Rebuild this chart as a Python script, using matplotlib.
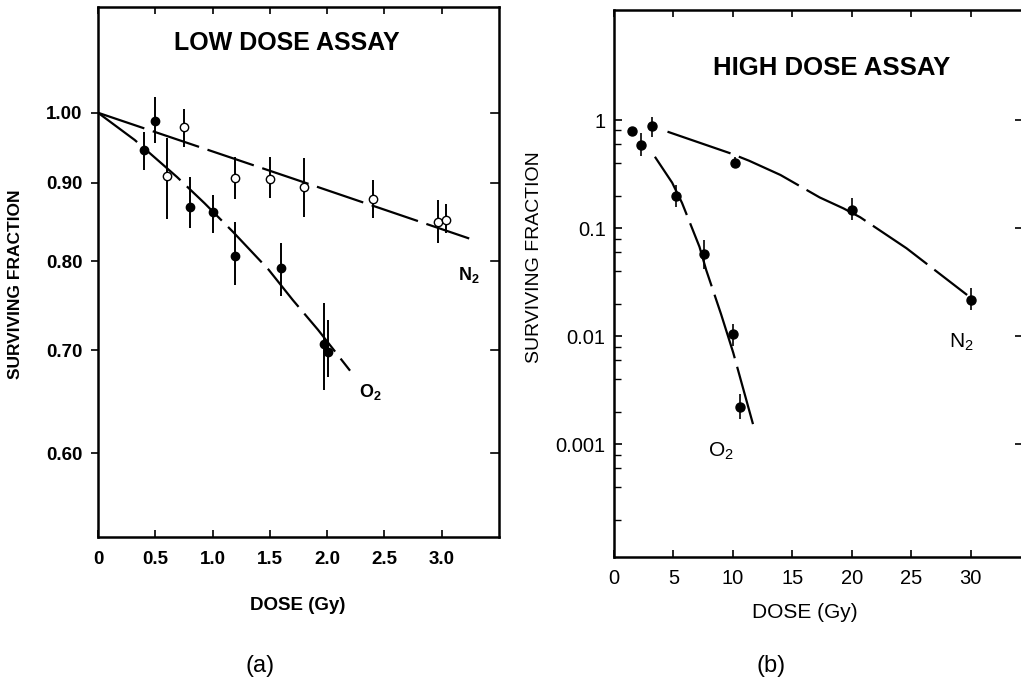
import matplotlib
matplotlib.use("Agg")
import matplotlib.pyplot as plt
from matplotlib.ticker import FixedLocator, NullLocator, NullFormatter
import numpy as np

plt.rcParams['font.family'] = ['Liberation Sans', 'DejaVu Sans']
plt.rcParams['mathtext.fontset'] = 'custom'
plt.rcParams['mathtext.rm'] = 'Liberation Sans'
plt.rcParams['mathtext.bf'] = 'Liberation Sans:bold'

# ---------------- (a) LOW DOSE ASSAY ----------------
lo_o2_dose = [0.40, 0.50, 0.80, 1.00, 1.20, 1.60, 1.97, 2.01]
lo_o2_sf   = [0.946, 0.988, 0.868, 0.862, 0.807, 0.792, 0.707, 0.698]
lo_o2_low  = [0.918, 0.956, 0.841, 0.835, 0.772, 0.759, 0.660, 0.673]
lo_o2_high = [0.972, 1.024, 0.908, 0.884, 0.849, 0.823, 0.752, 0.733]

lo_n2_dose = [0.60, 0.75, 1.20, 1.50, 1.80, 2.40, 2.97, 3.04]
lo_n2_sf   = [0.910, 0.979, 0.907, 0.906, 0.895, 0.879, 0.849, 0.851]
lo_n2_low  = [0.852, 0.950, 0.879, 0.880, 0.855, 0.854, 0.823, 0.835]
lo_n2_high = [0.963, 1.005, 0.936, 0.936, 0.935, 0.904, 0.877, 0.872]

lo_n2_fit_dose = [0.0, 1.70, 3.24]
lo_n2_fit_sf   = [1.0, 0.906, 0.828]
lo_o2_fit_dose = [0.0, 0.32, 0.69, 0.93, 1.18, 1.49, 1.70, 1.92, 2.20]
lo_o2_fit_sf   = [1.0, 0.960, 0.908, 0.873, 0.836, 0.790, 0.755, 0.722, 0.679]

lo_xticks = [0, 0.5, 1.0, 1.5, 2.0, 2.5, 3.0]
lo_xticklabels = ["0", "0.5", "1.0", "1.5", "2.0", "2.5", "3.0"]
lo_yticks = [0.60, 0.70, 0.80, 0.90, 1.00]
lo_yticklabels = ["0.60", "0.70", "0.80", "0.90", "1.00"]

# ---------------- (b) HIGH DOSE ASSAY ----------------
hi_init_dose = [1.5, 2.3, 3.2]
hi_init_sf   = [0.79, 0.59, 0.88]
hi_init_low  = [0.79, 0.46, 0.70]
hi_init_high = [0.79, 0.76, 1.07]

hi_n2_dose = [10.2, 20.0, 30.0]
hi_n2_sf   = [0.397, 0.147, 0.0216]
hi_n2_low  = [0.397, 0.119, 0.0174]
hi_n2_high = [0.457, 0.188, 0.0277]

hi_o2_dose = [5.2, 7.6, 10.0, 10.6]
hi_o2_sf   = [0.198, 0.057, 0.0104, 0.0022]
hi_o2_low  = [0.157, 0.042, 0.0081, 0.00172]
hi_o2_high = [0.250, 0.0774, 0.0129, 0.0029]

hi_n2_fit_dose = [4.5, 9.83, 11.36, 14.0, 17.3, 19.3, 20.7, 24.6, 29.7]
hi_n2_fit_sf   = [0.78, 0.49, 0.42, 0.31, 0.192, 0.152, 0.126, 0.065, 0.024]
hi_o2_fit_dose = [3.44, 4.89, 5.72, 7.19, 7.75, 9.0, 10.03, 11.69]
hi_o2_fit_sf   = [0.457, 0.263, 0.171, 0.067, 0.041, 0.0160, 0.0070, 0.00153]

hi_xticks = [0, 5, 10, 15, 20, 25, 30]
hi_yticks = [0.001, 0.01, 0.1, 1]
hi_yticklabels = ["0.001", "0.01", "0.1", "1"]
hi_minor_mult = [0.2, 0.4, 0.6, 0.8]


def yerr(sf, low, high):
    sf = np.asarray(sf); return [sf - np.asarray(low), np.asarray(high) - sf]


W, H = 1021, 696
fig = plt.figure(figsize=(W / 100, H / 100), dpi=100)

# ---- panel (a)
axa = fig.add_axes([98 / W, 1 - 537 / H, 401 / W, 530 / H])
axa.set_yscale('log')
axa.set_xlim(0, 3.5)
axa.set_ylim(0.529, 1.172)
ls = (0, (22, 4))
axa.plot(lo_n2_fit_dose, lo_n2_fit_sf, color='black', lw=1.6, linestyle=ls, zorder=2)
axa.plot(lo_o2_fit_dose, lo_o2_fit_sf, color='black', lw=1.6, linestyle=ls, zorder=2)
axa.errorbar(lo_o2_dose, lo_o2_sf, yerr=yerr(lo_o2_sf, lo_o2_low, lo_o2_high),
             fmt='o', ms=6, mfc='black', mec='black', ecolor='black', elinewidth=1.4,
             capsize=0, zorder=3)
axa.errorbar(lo_n2_dose, lo_n2_sf, yerr=yerr(lo_n2_sf, lo_n2_low, lo_n2_high),
             fmt='o', ms=6, mfc='white', mec='black', mew=1.0, ecolor='black',
             elinewidth=1.4, capsize=0, zorder=3)
axa.xaxis.set_major_locator(FixedLocator(lo_xticks))
axa.set_xticklabels(lo_xticklabels, fontsize=13.5, fontweight='bold')
axa.yaxis.set_major_locator(FixedLocator(lo_yticks))
axa.yaxis.set_minor_locator(NullLocator())
axa.yaxis.set_minor_formatter(NullFormatter())
axa.set_yticklabels(lo_yticklabels, fontsize=13.5, fontweight='bold')
axa.tick_params(axis='x', direction='in', top=True, length=5, width=1.2, pad=10)
axa.tick_params(axis='y', direction='out', right=False, length=5, width=1.2, pad=6)
for yt in lo_yticks:
    axa.plot([3.43, 3.5], [yt, yt], color='black', lw=1.2, clip_on=False, zorder=1)
for s in axa.spines.values():
    s.set_linewidth(1.8)
axa.set_xlabel('DOSE (Gy)', fontsize=13.5, fontweight='bold')
axa.xaxis.set_label_coords(0.499, -0.113)
axa.set_ylabel('SURVIVING FRACTION', fontsize=12.5, fontweight='bold')
axa.yaxis.set_label_coords(-0.187, 0.477)
axa.text(0.471, 0.932, 'LOW DOSE ASSAY', transform=axa.transAxes, ha='center',
         va='center', fontsize=18, fontweight='bold')
axa.text(3.14, 0.784, r'$\mathbf{N}_{\mathbf{2}}$', fontsize=13, ha='left', va='center')
axa.text(2.28, 0.658, r'$\mathbf{O}_{\mathbf{2}}$', fontsize=13, ha='left', va='center')

# ---- panel (b)
axb = fig.add_axes([614 / W, 1 - 557 / H, 409 / W, 547 / H])
axb.set_yscale('log')
axb.set_xlim(0, 34.4)
axb.set_ylim(9.0e-5, 10.44)
ls2 = (0, (30, 4))
axb.plot(hi_n2_fit_dose, hi_n2_fit_sf, color='black', lw=1.6, linestyle=ls2, zorder=2)
axb.plot(hi_o2_fit_dose, hi_o2_fit_sf, color='black', lw=1.6, linestyle=ls2, zorder=2)
for d, s, lo, hi in [(hi_init_dose, hi_init_sf, hi_init_low, hi_init_high),
                     (hi_n2_dose, hi_n2_sf, hi_n2_low, hi_n2_high),
                     (hi_o2_dose, hi_o2_sf, hi_o2_low, hi_o2_high)]:
    axb.errorbar(d, s, yerr=yerr(s, lo, hi), fmt='o', ms=6.5, mfc='black', mec='black',
                 ecolor='black', elinewidth=1.2, capsize=0, zorder=3)
axb.xaxis.set_major_locator(FixedLocator(hi_xticks))
axb.set_xticklabels([str(t) for t in hi_xticks], fontsize=14.5)
axb.yaxis.set_major_locator(FixedLocator(hi_yticks))
axb.set_yticklabels(hi_yticklabels, fontsize=14.5)
minor_pos = [m * dec for dec in [1e-3, 1e-2, 1e-1, 1.0] for m in hi_minor_mult]
axb.yaxis.set_minor_locator(FixedLocator(minor_pos))
axb.yaxis.set_minor_formatter(NullFormatter())
axb.tick_params(axis='x', direction='in', top=True, length=5, width=1.2, pad=9)
axb.tick_params(axis='y', which='major', direction='in', right=True, length=6, width=1.2, pad=6)
axb.tick_params(axis='y', which='minor', direction='in', right=False, length=5, width=1.0)
for s in axb.spines.values():
    s.set_linewidth(1.8)
axb.set_xlabel('DOSE (Gy)', fontsize=15)
axb.xaxis.set_label_coords(0.467, -0.084)
axb.set_ylabel('SURVIVING FRACTION', fontsize=14)
axb.yaxis.set_label_coords(-0.1736, 0.548)
axb.text(0.531, 0.894, 'HIGH DOSE ASSAY', transform=axb.transAxes, ha='center',
         va='center', fontsize=18.5, fontweight='bold')
axb.text(29.2, 0.0088, r'$\mathrm{N}_{\mathrm{2}}$', fontsize=15, ha='center', va='center')
axb.text(9.0, 0.00085, r'$\mathrm{O}_{\mathrm{2}}$', fontsize=15, ha='center', va='center')

fig.text(260 / W, 1 - 666 / H, '(a)', fontsize=17, ha='center', va='center')
fig.text(771 / W, 1 - 666 / H, '(b)', fontsize=17, ha='center', va='center')

fig.savefig('out.png', dpi=100)
